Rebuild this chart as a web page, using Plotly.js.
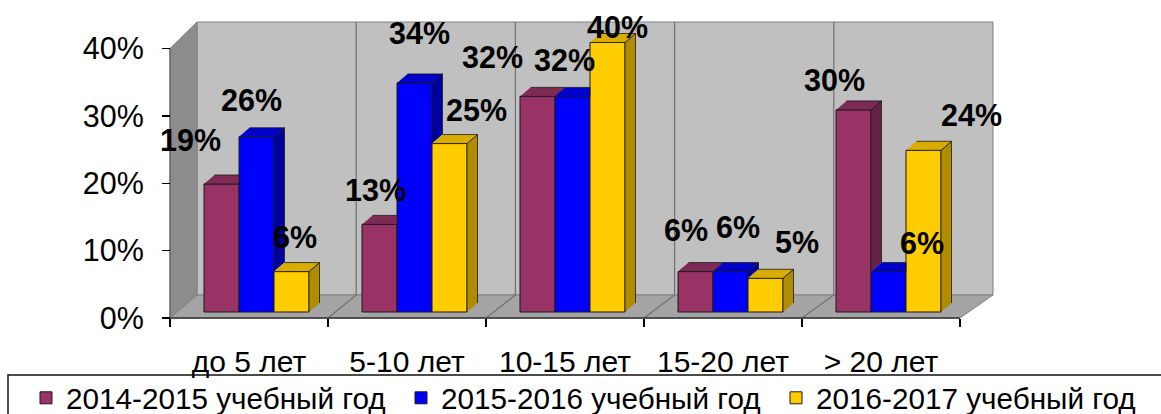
<!DOCTYPE html>
<html><head><meta charset="utf-8">
<script src="https://cdn.plot.ly/plotly-3.0.1.min.js"></script>
<style>html,body{margin:0;padding:0;background:#fff}#chart{width:1161px;height:414px}</style>
</head><body><div id="chart"></div>
<script>
// ---- data ----
const categories = ['до 5 лет', '5-10 лет', '10-15 лет', '15-20 лет', '> 20 лет'];
const seriesNames = ['2014-2015 учебный год', '2015-2016 учебный год', '2016-2017 учебный год'];
const values2014 = [19, 13, 32, 6, 30];
const values2015 = [26, 34, 32, 6, 6];
const values2016 = [6, 25, 40, 5, 24];
const yTickVals = [0, 10, 20, 30, 40];
const yTickText = ['0%', '10%', '20%', '30%', '40%'];

// ---- styling / geometry ----
const W = 1161, H = 414;
const FONT = 'Liberation Sans, Arial, sans-serif';
const PXC = 158;            // px per category
const PXP = 6.7375;         // px per percent
const X0PX = 249;           // px of first category centre
const Y0PX = 318;           // px of 0%
const PLOT = {l: 160, r: 1000, t: 15, b: 325};
const seriesValues = [values2014, values2015, values2016];
const frontCol = ['#993366', '#0000ff', '#ffcc00'];
const topCol = ['#7d2a54', '#0000cc', '#d9ad00'];
const sideCol = ['#662244', '#00009f', '#b08c00'];
const BW = 35 / PXC;          // bar width
const G0 = -45 / PXC;         // group offset from category centre
const BASE = 6 / PXP;         // bar front base (depth shift)
const BDX = 10.5 / PXC, BDY = 9 / PXP;   // bar depth
const FDY = 23 / PXP;         // floor depth (y)
const BACKL = 27 / PXC, BACKR = 33 / PXC; // floor depth (x) left/right
const WALLTOP = (Y0PX - 22) / PXP;
const nCat = categories.length;
const xLeft = -0.5, xRight = nCat - 0.5;
function bx(xf) { return xf + BACKL + (xf - xLeft) / (xRight - xLeft) * (BACKR - BACKL); }
const catIdx = categories.map((c, i) => i);

// label nudges in px (xshift, yshift) per series/category
const labelNudge = [
  [[-31, 44], [-4, 34], [-45, 39], [-10, 42], [-19, 30]],
  [[-5, 37], [5, 50], [-8, 36], [7, 45], [33, 29]],
  [[3, 35], [27, 34], [10, 16], [31, 36], [48, 35]]
];

const traces = [];
// front faces as bars (legend)
seriesValues.forEach((vals, s) => {
  traces.push({
    type: 'bar', name: seriesNames[s], x: catIdx, y: vals,
    base: BASE, offset: G0 + s * BW, width: BW,
    marker: {color: frontCol[s], line: {color: '#1a1a1a', width: 1}},
    hoverinfo: 'skip'
  });
});
// side and top faces
seriesValues.forEach((vals, s) => {
  const sx = [], sy = [], tx = [], ty = [];
  vals.forEach((v, i) => {
    const L = i + G0 + s * BW, R = L + BW, t = v + BASE;
    const tNext = s < seriesValues.length - 1 ? seriesValues[s + 1][i] + BASE : BASE;
    const b = Math.max(BASE, tNext);
    if (t > b) {
      sx.push(R, R, R + BDX, R + BDX, null);
      sy.push(b, t, t + BDY, b + BDY, null);
    }
    if (s < seriesValues.length - 1 && tNext > t) {
      tx.push(L, R, R, L + BDX, null);
      ty.push(t, t, t + BDY, t + BDY, null);
    } else {
      tx.push(L, R, R + BDX, L + BDX, null);
      ty.push(t, t, t + BDY, t + BDY, null);
    }
  });
  traces.push({type: 'scatter', mode: 'lines', x: sx, y: sy, fill: 'toself', fillcolor: sideCol[s],
    line: {color: '#1a1a1a', width: 0.8}, showlegend: false, hoverinfo: 'skip'});
  traces.push({type: 'scatter', mode: 'lines', x: tx, y: ty, fill: 'toself', fillcolor: topCol[s],
    line: {color: '#1a1a1a', width: 0.8}, showlegend: false, hoverinfo: 'skip'});
});

// walls, floor, grid
const shapes = [];
shapes.push({type: 'path', xref: 'x', yref: 'y', layer: 'below',
  path: `M${bx(xLeft)},${FDY} L${bx(xRight)},${FDY} L${bx(xRight)},${WALLTOP} L${bx(xLeft)},${WALLTOP} Z`,
  fillcolor: '#c0c0c0', line: {color: '#808080', width: 1}});
shapes.push({type: 'path', xref: 'x', yref: 'y', layer: 'below',
  path: `M${xLeft},0 L${xLeft},40 L${bx(xLeft)},${WALLTOP} L${bx(xLeft)},${FDY} Z`,
  fillcolor: '#8c8c8c', line: {color: '#808080', width: 1}});
shapes.push({type: 'path', xref: 'x', yref: 'y', layer: 'below',
  path: `M${xLeft},0 L${xRight},0 L${bx(xRight)},${FDY} L${bx(xLeft)},${FDY} Z`,
  fillcolor: '#a4a4a4', line: {color: '#808080', width: 1}});
for (let k = 1; k < nCat; k++) {
  const b = k - 0.5;
  shapes.push({type: 'path', xref: 'x', yref: 'y', layer: 'below',
    path: `M${b},0 L${bx(b)},${FDY} L${bx(b)},${WALLTOP}`,
    line: {color: '#707070', width: 1.2}});
}
// axis lines
shapes.push({type: 'line', xref: 'x', yref: 'y', layer: 'below', x0: xLeft, x1: xRight, y0: 0, y1: 0,
  line: {color: '#333', width: 1.5}});
shapes.push({type: 'line', xref: 'x', yref: 'y', layer: 'below', x0: xLeft, x1: xLeft, y0: 0, y1: 40,
  line: {color: '#555', width: 1}});
// legend frame
shapes.push({type: 'rect', xref: 'paper', yref: 'paper', x0: 8 / W, x1: 1.05, y0: -0.1, y1: (H - 375) / H,
  line: {color: '#111', width: 1.5}, fillcolor: 'rgba(0,0,0,0)'});

// value labels
const annotations = [];
seriesValues.forEach((vals, s) => {
  vals.forEach((v, i) => {
    annotations.push({
      x: i + G0 + s * BW + BW / 2, y: v + BASE, xref: 'x', yref: 'y',
      text: v + '%', showarrow: false, xanchor: 'center', yanchor: 'middle',
      xshift: labelNudge[s][i][0], yshift: labelNudge[s][i][1],
      font: {family: FONT, size: 30.5, color: '#000', weight: 'bold'}
    });
  });
});

const layout = {
  width: W, height: H,
  margin: {l: 0, r: 0, t: 0, b: 0, autoexpand: false},
  paper_bgcolor: '#fff', plot_bgcolor: 'rgba(0,0,0,0)',
  font: {family: FONT, color: '#000'},
  barmode: 'overlay',
  xaxis: {
    domain: [PLOT.l / W, PLOT.r / W],
    range: [(PLOT.l - X0PX) / PXC, (PLOT.r - X0PX) / PXC],
    anchor: 'free', position: (H - Y0PX) / H,
    showgrid: false, zeroline: false, showline: false,
    tickmode: 'array', tickvals: catIdx, ticktext: categories, ticks: '',
    tickfont: {size: 30, family: FONT, color: '#000'},
    ticklabelstandoff: 23,
    minor: {tickmode: 'array', tickvals: Array.from({length: nCat + 1}, (_, k) => k - 0.5),
      ticks: 'outside', ticklen: 8, tickwidth: 1.5, tickcolor: '#000', showgrid: false}
  },
  yaxis: {
    domain: [(H - PLOT.b) / H, (H - PLOT.t) / H],
    range: [(Y0PX - PLOT.b) / PXP, (Y0PX - PLOT.t) / PXP],
    anchor: 'free', position: 170 / W,
    showgrid: false, zeroline: false, showline: false,
    tickmode: 'array', tickvals: yTickVals, ticktext: yTickText,
    ticks: 'outside', ticklen: 8, tickwidth: 1.5, tickcolor: '#000',
    tickfont: {size: 30.5, family: FONT, color: '#000'},
    ticklabelstandoff: 12
  },
  showlegend: true,
  legend: {
    orientation: 'h', x: 26 / W, y: (H - 398) / H, xanchor: 'left', yanchor: 'middle',
    font: {size: 29.7, family: FONT, color: '#000'},
    entrywidth: 330, entrywidthmode: 'pixels',
    bgcolor: 'rgba(0,0,0,0)', borderwidth: 0, traceorder: 'normal'
  },
  shapes: shapes,
  annotations: annotations
};

Plotly.newPlot('chart', traces, layout, {displayModeBar: false, staticPlot: true});
</script>
</body></html>
